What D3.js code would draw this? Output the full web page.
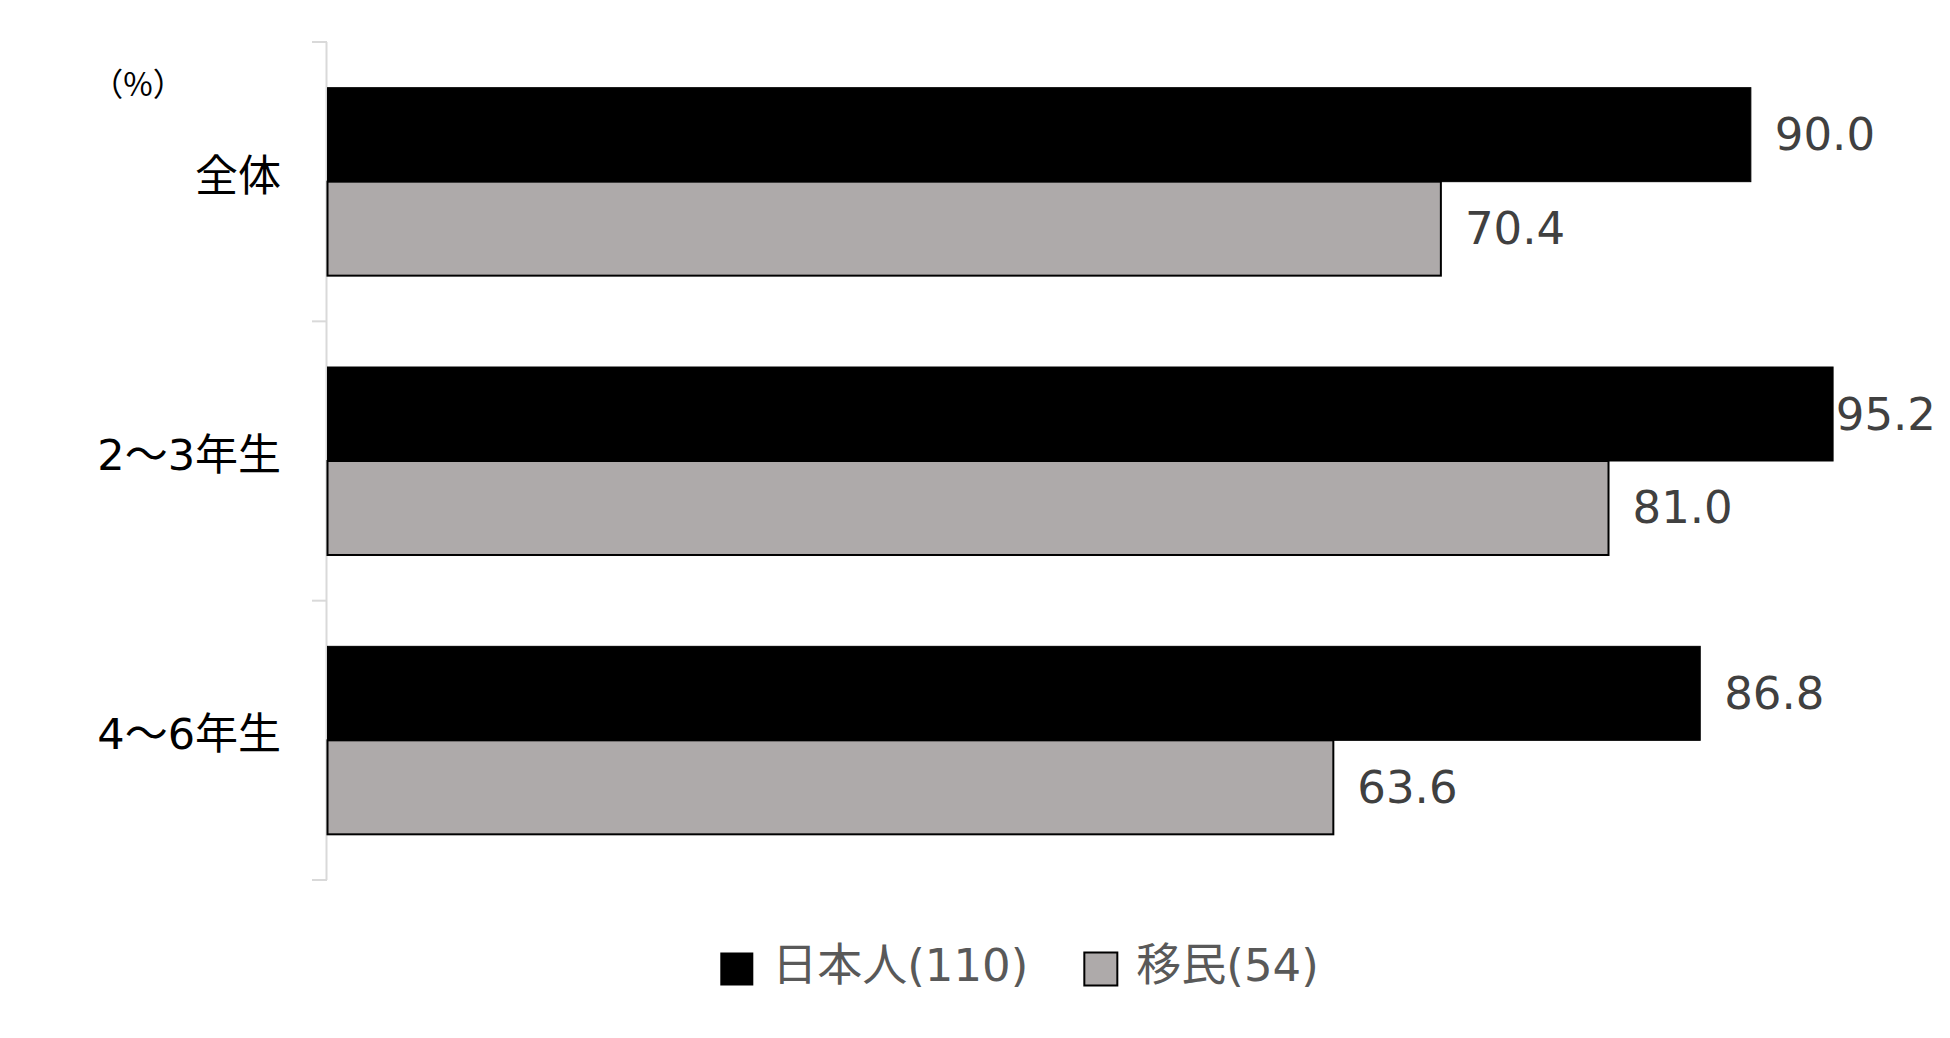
<!DOCTYPE html>
<html lang="ja">
<head>
<meta charset="UTF-8">
<title>日本人・移民 比較</title>
<script src="https://d3js.org/d3.v7.min.js"></script>
<style>
    body { margin: 0; padding: 0; background: #ffffff; overflow: hidden; }
    svg { display: block; }
    .cat-label { font-family: "DejaVu Sans", "Noto Sans CJK JP", sans-serif; font-size: 43px; fill: #000000; }
    .val-label { font-family: "DejaVu Sans", "Noto Sans CJK JP", sans-serif; font-size: 45px; fill: #404040; }
    .legend-text { font-family: "DejaVu Sans", "Noto Sans CJK JP", sans-serif; font-size: 45px; fill: #595959; }
    .unit { font-family: "Noto Sans CJK JP", sans-serif; font-size: 32px; fill: #000000; }
</style>
</head>
<body>
<svg id="chart" width="1950" height="1038"></svg>
<script>
// --- data ---
const categories = ["全体", "2～3年生", "4～6年生"];
const seriesNames = ["日本人(110)", "移民(54)"];
const japanese = [90.0, 95.2, 86.8];
const immigrants = [70.4, 81.0, 63.6];
const seriesColors = ["#000000", "#AEAAAA"];

const W = 1950, H = 1038;
const svg = d3.select("#chart");

// scales
const x = d3.scaleLinear().domain([0, 100]).range([327.5, 1909]);
const y = d3.scaleBand().domain(categories).range([42, 880]).padding(0);
const ySub = d3.scaleBand().domain(seriesNames).range([0, y.bandwidth()])
    .paddingInner(0).paddingOuter(0.486);

const rows = categories.map((c, i) => ({
    cat: c,
    values: [japanese[i], immigrants[i]]
}));

// axis (light grey line with ticks at category boundaries)
const axisG = svg.append("g").attr("class", "axis");
const bounds = categories.map(c => y(c)).concat([y.range()[1]]);
axisG.append("line")
    .attr("x1", 326.5).attr("x2", 326.5)
    .attr("y1", y.range()[0]).attr("y2", y.range()[1])
    .attr("stroke", "#d9d9d9").attr("stroke-width", 2);
axisG.selectAll("line.tick").data(bounds).enter().append("line")
    .attr("class", "tick")
    .attr("x1", 312).attr("x2", 327)
    .attr("y1", d => d).attr("y2", d => d)
    .attr("stroke", "#d9d9d9").attr("stroke-width", 2);

// bars
const groups = svg.append("g").selectAll("g")
    .data(rows).enter().append("g")
    .attr("transform", d => `translate(0,${y(d.cat)})`);

groups.selectAll("rect")
    .data(d => d.values.map((v, k) => ({ v, k })))
    .enter().append("rect")
    .attr("x", x(0))
    .attr("y", d => ySub(seriesNames[d.k]))
    .attr("width", d => x(d.v) - x(0))
    .attr("height", ySub.bandwidth())
    .attr("fill", d => seriesColors[d.k])
    .attr("stroke", "#000000")
    .attr("stroke-width", d => d.k === 1 ? 2 : 1);

// value labels
groups.selectAll("text.val-label")
    .data(d => d.values.map((v, k) => ({ v, k })))
    .enter().append("text")
    .attr("class", "val-label")
    .attr("y", d => ySub(seriesNames[d.k]) + ySub.bandwidth() / 2)
    .attr("dominant-baseline", "central")
    .text(d => d.v.toFixed(1))
    .attr("x", function(d) {
        const w = this.getComputedTextLength();
        return Math.min(x(d.v) + 24, W - 14 - w);
    });

// category labels
svg.append("g").selectAll("text")
    .data(categories).enter().append("text")
    .attr("class", "cat-label")
    .attr("x", 281)
    .attr("y", d => y(d) + y.bandwidth() / 2 - 6)
    .attr("text-anchor", "end")
    .attr("dominant-baseline", "central")
    .text(d => d);

// unit
svg.append("text")
    .attr("class", "unit")
    .attr("x", 138).attr("y", 82)
    .attr("text-anchor", "middle")
    .attr("dominant-baseline", "central")
    .text("（%）");

// legend
const legend = svg.append("g");
let lx = 0;
seriesNames.forEach((name, k) => {
    const g = legend.append("g");
    g.append("rect")
        .attr("x", lx).attr("y", -17)
        .attr("width", 33).attr("height", 33)
        .attr("fill", seriesColors[k])
        .attr("stroke", "#000000")
        .attr("stroke-width", k === 1 ? 2 : 0);
    const t = g.append("text")
        .attr("class", "legend-text")
        .attr("x", lx + 52).attr("y", -4)
        .attr("dominant-baseline", "central")
        .text(name);
    lx += 52 + t.node().getComputedTextLength() + 56;
});
const legendW = lx - 56;
legend.attr("transform", `translate(${1019.5 - legendW / 2},969.5)`);
</script>
</body>
</html>
